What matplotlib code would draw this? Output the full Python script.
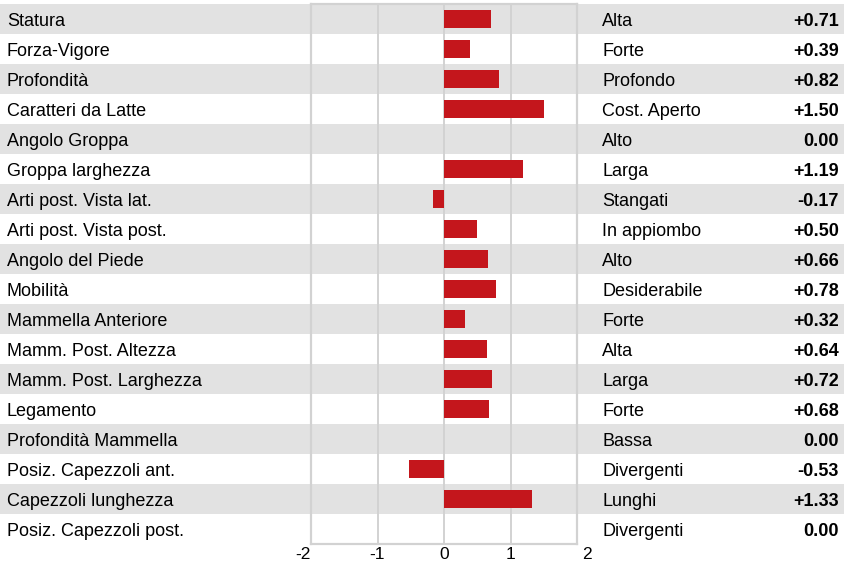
import matplotlib
matplotlib.use("Agg")
import matplotlib.pyplot as plt
from matplotlib.transforms import ScaledTranslation

traits = ["Statura", "Forza-Vigore", "Profondità", "Caratteri da Latte", "Angolo Groppa",
          "Groppa larghezza", "Arti post. Vista lat.", "Arti post. Vista post.",
          "Angolo del Piede", "Mobilità", "Mammella Anteriore", "Mamm. Post. Altezza",
          "Mamm. Post. Larghezza", "Legamento", "Profondità Mammella",
          "Posiz. Capezzoli ant.", "Capezzoli lunghezza", "Posiz. Capezzoli post."]
descriptors = ["Alta", "Forte", "Profondo", "Cost. Aperto", "Alto", "Larga", "Stangati",
               "In appiombo", "Alto", "Desiderabile", "Forte", "Alta", "Larga", "Forte",
               "Bassa", "Divergenti", "Lunghi", "Divergenti"]
values = [0.71, 0.39, 0.82, 1.50, 0.00, 1.19, -0.17, 0.50, 0.66, 0.78, 0.32, 0.64,
          0.72, 0.68, 0.00, -0.53, 1.33, 0.00]
xticks = [-2, -1, 0, 1, 2]

W, H = 845, 565
fig = plt.figure(figsize=(W / 100, H / 100), dpi=100)
plt.rcParams['font.family'] = ['Liberation Sans', 'DejaVu Sans']

x0, x1 = 311, 577
y_top, y_bot = 4, 544
ax = fig.add_axes([x0 / W, 1 - y_bot / H, (x1 - x0) / W, (y_bot - y_top) / H])
n = len(traits)
ax.set_ylim(n - 0.5, -0.5)
ax.set_xlim(-2, 2)

band = "#e2e2e2"
grid = "#d2d2d2"
red = "#c4161c"
fs = 13

xmin_ext = -x0 / (x1 - x0)
xmax_ext = (W - x0) / (x1 - x0)
for i in range(n):
    if i % 2 == 0:
        ax.axhspan(i - 0.5, i + 0.5, xmin=xmin_ext, xmax=xmax_ext, color=band,
                   clip_on=False, zorder=0, lw=0)

for g in [-1, 0, 1]:
    ax.axvline(g, color=grid, lw=1.4, zorder=1)

ys = list(range(n))
ax.barh(ys, values, height=0.6, color=red, zorder=2)

for sp in ax.spines.values():
    sp.set_color(grid)
    sp.set_linewidth(1.6)
ax.set_facecolor("none")
ax.set_yticks([])
ax.set_xticks(xticks)
ax.set_xticklabels([str(t) for t in xticks], fontsize=12.5)
ax.tick_params(axis='x', length=0, pad=2.5)
labs = ax.get_xticklabels()
labs[0].set_transform(labs[0].get_transform() + ScaledTranslation(-8 / 100, 0, fig.dpi_scale_trans))
labs[-1].set_transform(labs[-1].get_transform() + ScaledTranslation(10 / 100, 0, fig.dpi_scale_trans))

trans_l = ax.get_yaxis_transform()
off = 0.24
for i, (t, d, v) in enumerate(zip(traits, descriptors, values)):
    ax.text(xmin_ext + 7 / (x1 - x0), i + off, t, transform=trans_l, ha='left', va='baseline',
            fontsize=fs, clip_on=False)
    ax.text((602 - x0) / (x1 - x0), i + off, d, transform=trans_l, ha='left', va='baseline',
            fontsize=fs, clip_on=False)
    s = "0.00" if v == 0 else f"{v:+.2f}"
    ax.text((839 - x0) / (x1 - x0), i + off, s, transform=trans_l, ha='right', va='baseline',
            fontsize=fs, fontweight='bold', clip_on=False)

fig.savefig("out.png", dpi=100)
